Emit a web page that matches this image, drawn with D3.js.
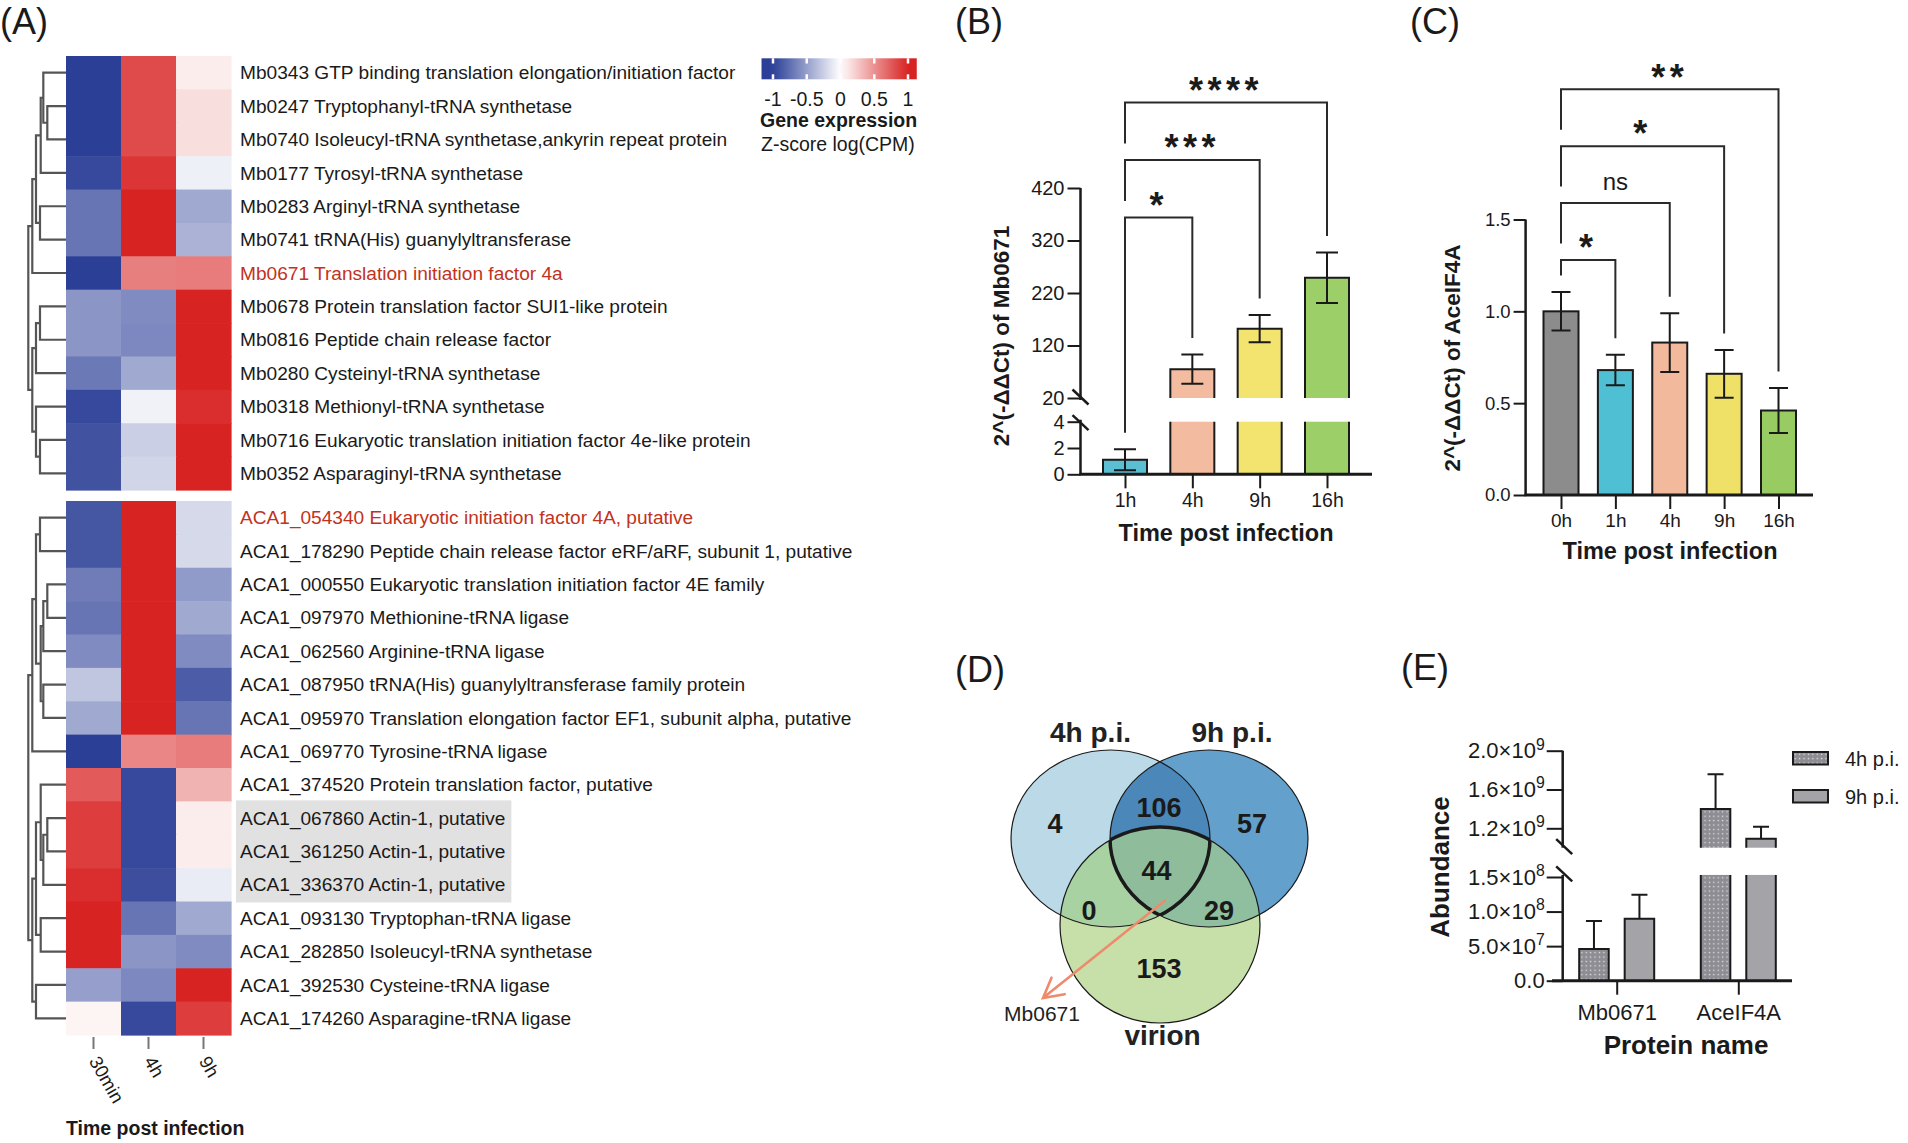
<!DOCTYPE html>
<html><head><meta charset="utf-8">
<script src="https://cdn.jsdelivr.net/npm/d3@7"></script>
<style>
body{margin:0;background:#fff;}
svg{display:block;}
</style></head><body>
<svg id="chart" width="1908" height="1143"></svg>
<script>
// ================= DATA =================
// Panel A heatmap
const heatCols = ["30min", "4h", "9h"];
const mbGenes = [
 "Mb0343 GTP binding translation elongation/initiation factor",
 "Mb0247 Tryptophanyl-tRNA synthetase",
 "Mb0740 Isoleucyl-tRNA synthetase,ankyrin repeat protein",
 "Mb0177 Tyrosyl-tRNA synthetase",
 "Mb0283 Arginyl-tRNA synthetase",
 "Mb0741 tRNA(His) guanylyltransferase",
 "Mb0671 Translation initiation factor 4a",
 "Mb0678 Protein translation factor SUI1-like protein",
 "Mb0816 Peptide chain release factor",
 "Mb0280 Cysteinyl-tRNA synthetase",
 "Mb0318 Methionyl-tRNA synthetase",
 "Mb0716 Eukaryotic translation initiation factor 4e-like protein",
 "Mb0352 Asparaginyl-tRNA synthetase"
];
const mbZ = [
 [-1.0, 0.82, 0.08],
 [-1.0, 0.82, 0.15],
 [-1.0, 0.82, 0.15],
 [-0.95, 0.92, -0.08],
 [-0.72, 1.0, -0.45],
 [-0.72, 1.0, -0.40],
 [-1.0, 0.58, 0.60],
 [-0.55, -0.60, 1.0],
 [-0.55, -0.62, 1.0],
 [-0.70, -0.45, 1.0],
 [-0.95, -0.07, 0.95],
 [-0.90, -0.25, 1.0],
 [-0.90, -0.22, 1.0]
];
// merges: [left, right, height]; numbers = leaves, "nK" = K-th merge
const mbMerges = [
 [1, 2, 0.496], [0, "n0", 0.602], ["n1", 3, 0.671], [4, 5, 0.69],
 ["n2", "n3", 0.796], ["n4", 6, 0.894], [7, 8, 0.69], ["n6", 9, 0.796],
 [11, 12, 0.69], [10, "n8", 0.796], ["n7", "n9", 0.894], ["n5", "n10", 1.0]
];
const acaGenes = [
 "ACA1_054340 Eukaryotic initiation factor 4A, putative",
 "ACA1_178290 Peptide chain release factor eRF/aRF, subunit 1, putative",
 "ACA1_000550 Eukaryotic translation initiation factor 4E family",
 "ACA1_097970 Methionine-tRNA ligase",
 "ACA1_062560 Arginine-tRNA ligase",
 "ACA1_087950 tRNA(His) guanylyltransferase family protein",
 "ACA1_095970 Translation elongation factor EF1, subunit alpha, putative",
 "ACA1_069770 Tyrosine-tRNA ligase",
 "ACA1_374520 Protein translation factor, putative",
 "ACA1_067860 Actin-1, putative",
 "ACA1_361250 Actin-1, putative",
 "ACA1_336370 Actin-1, putative",
 "ACA1_093130 Tryptophan-tRNA ligase",
 "ACA1_282850 Isoleucyl-tRNA synthetase",
 "ACA1_392530 Cysteine-tRNA ligase",
 "ACA1_174260 Asparagine-tRNA ligase"
];
const acaZ = [
 [-0.88, 1.0, -0.20],
 [-0.88, 1.0, -0.20],
 [-0.68, 1.0, -0.52],
 [-0.72, 1.0, -0.45],
 [-0.60, 1.0, -0.60],
 [-0.30, 1.0, -0.85],
 [-0.45, 1.0, -0.72],
 [-1.0, 0.55, 0.60],
 [0.75, -0.95, 0.35],
 [0.88, -0.95, 0.08],
 [0.88, -0.95, 0.08],
 [0.95, -0.92, -0.10],
 [1.0, -0.72, -0.45],
 [1.0, -0.55, -0.60],
 [-0.50, -0.62, 1.0],
 [0.05, -0.95, 0.88]
];
const acaMerges = [
 [0, 1, 0.69], [2, 3, 0.496], ["n1", 4, 0.602], [5, 6, 0.602],
 ["n2", "n3", 0.671], ["n0", "n4", 0.796], ["n5", 7, 0.894],
 [9, 10, 0.496], ["n7", 11, 0.602], [8, "n8", 0.671], [12, 13, 0.671],
 ["n9", "n10", 0.796], [14, 15, 0.796], ["n11", "n12", 0.894], ["n6", "n13", 1.0]
];
const highlightGenes = ["Mb0671 Translation initiation factor 4a", "ACA1_054340 Eukaryotic initiation factor 4A, putative"];
const actinGenes = ["ACA1_067860 Actin-1, putative", "ACA1_361250 Actin-1, putative", "ACA1_336370 Actin-1, putative"];
const legendTicks = [-1, -0.5, 0, 0.5, 1];
const legendTickLabels = ["-1", "-0.5", "0", "0.5", "1"];

// Panel B
const bTimes = ["1h", "4h", "9h", "16h"];
const bMeans = [1.1, 75, 152, 249];
const bSD = [0.8, 28, 26, 48];
const bUpperTicks = [20, 120, 220, 320, 420];
const bLowerTicks = [0, 2, 4];
const bSig = [
 {a: "1h", b: "4h", label: "*"},
 {a: "1h", b: "9h", label: "***"},
 {a: "1h", b: "16h", label: "****"}
];

// Panel C
const cTimes = ["0h", "1h", "4h", "9h", "16h"];
const cMeans = [1.0, 0.68, 0.83, 0.66, 0.46];
const cSD = [0.105, 0.083, 0.16, 0.13, 0.122];
const cTicks = [0, 0.5, 1.0, 1.5];
const cSig = [
 {a: "0h", b: "1h", label: "*"},
 {a: "0h", b: "4h", label: "ns"},
 {a: "0h", b: "9h", label: "*"},
 {a: "0h", b: "16h", label: "**"}
];

// Panel D
const vennSets = ["4h p.i.", "9h p.i.", "virion"];
const vennRegions = ["4h only", "4h&9h", "9h only", "all", "4h&virion", "9h&virion", "virion only"];
const vennCounts = [4, 106, 57, 44, 0, 29, 153];
const vennArrowLabel = "Mb0671";

// Panel E
const eProteins = ["Mb0671", "AceIF4A"];
const eGroups = ["4h p.i.", "9h p.i."];
const eMeans = [[4.6e7, 8.95e7], [1.40e9, 1.093e9]];
const eErr = [[4.05e7, 3.5e7], [3.57e8, 1.22e8]];
const eUpperTicks = [1.2e9, 1.6e9, 2.0e9];
const eLowerTicks = [0, 5e7, 1e8, 1.5e8];

// ================= DRAWING =================
const FONT = "'Liberation Sans', Arial, Helvetica, sans-serif";
const svg = d3.select("#chart").attr("font-family", FONT);
svg.append("rect").attr("width", 1908).attr("height", 1143).attr("fill", "#fff");
const defs = svg.append("defs");
const INK = "#1a1a1a";

// panel letters
const panelLetters = [["(A)", 0, 34], ["(B)", 955, 34], ["(C)", 1410, 34], ["(D)", 955, 682], ["(E)", 1401, 680]];
svg.selectAll("text.panel").data(panelLetters).join("text")
  .attr("x", d => d[1]).attr("y", d => d[2]).attr("font-size", 36).attr("fill", INK).text(d => d[0]);

// ---------- Panel A ----------
const heatColor = d3.scaleLinear().domain([-1, 0, 1]).range(["#2c3f97", "#ffffff", "#d82323"]).clamp(true);
const xCol = d3.scaleBand().domain(heatCols).range([66, 231]);
const dendX = d3.scaleLinear().domain([0, 1]).range([66, 28.3]);

function heatGroup(genes, z, merges, y0, y1) {
  const g = svg.append("g");
  const y = d3.scaleBand().domain(d3.range(genes.length)).range([y0, y1]);
  const bg = g.append("g");
  const cells = [];
  z.forEach((row, i) => row.forEach((v, j) => cells.push({i, j, v})));
  g.append("g").selectAll("rect").data(cells).join("rect")
    .attr("x", d => xCol(heatCols[d.j])).attr("y", d => y(d.i))
    .attr("width", xCol.bandwidth() + 0.6).attr("height", y.bandwidth() + 0.6)
    .attr("fill", d => heatColor(d.v));
  const labels = g.append("g").selectAll("text").data(genes).join("text")
    .attr("x", 240).attr("y", (d, i) => y(i) + y.bandwidth() / 2).attr("dy", "0.35em")
    .attr("font-size", 19.1)
    .attr("fill", d => highlightGenes.includes(d) ? "#c2321c" : INK)
    .text(d => d);
  // actin highlight
  const act = genes.map((d, i) => actinGenes.includes(d) ? i : -1).filter(i => i >= 0);
  if (act.length) {
    let maxR = 0;
    labels.each(function(d) { if (actinGenes.includes(d)) { const b = this.getBBox(); maxR = Math.max(maxR, b.x + b.width); } });
    bg.append("rect").attr("x", 236).attr("y", y(act[0]) - 1)
      .attr("width", maxR + 6 - 236).attr("height", y(act[act.length - 1]) + y.bandwidth() - y(act[0]) + 2)
      .attr("fill", "#e1e1e1");
  }
  // dendrogram
  const nodes = {};
  const pos = k => typeof k === "number" ? {x: dendX(0), y: y(k) + y.bandwidth() / 2} : nodes[k];
  const paths = merges.map((m, k) => {
    const a = pos(m[0]), b = pos(m[1]);
    const x = dendX(m[2]);
    nodes["n" + k] = {x, y: (a.y + b.y) / 2};
    return `M${a.x},${a.y}H${x}V${b.y}H${b.x}`;
  });
  g.append("g").selectAll("path").data(paths).join("path")
    .attr("d", d => d).attr("fill", "none").attr("stroke", "#555").attr("stroke-width", 2.2);
}
heatGroup(mbGenes, mbZ, mbMerges, 56, 490);
heatGroup(acaGenes, acaZ, acaMerges, 501, 1035);

// column ticks and labels
svg.append("g").selectAll("line").data(heatCols).join("line")
  .attr("x1", d => xCol(d) + xCol.bandwidth() / 2).attr("x2", d => xCol(d) + xCol.bandwidth() / 2)
  .attr("y1", 1037).attr("y2", 1049).attr("stroke", "#777").attr("stroke-width", 2);
svg.append("g").selectAll("text").data(heatCols).join("text")
  .attr("transform", d => `translate(${xCol(d) + xCol.bandwidth() / 2 - 5},${1061}) rotate(60)`)
  .attr("font-size", 18.5).attr("fill", INK).text(d => d);
svg.append("text").attr("x", 66).attr("y", 1135).attr("font-size", 19.5).attr("font-weight", "bold")
  .attr("fill", INK).text("Time post infection");

// legend color bar
const lx = d3.scaleLinear().domain([-1, 1]).range([773, 908]);
const grad = defs.append("linearGradient").attr("id", "hgrad");
const gx0 = -1.17, gx1 = 1.13;
grad.selectAll("stop").data(d3.range(0, 1.0001, 0.05)).join("stop")
  .attr("offset", d => d).attr("stop-color", d => heatColor(gx0 + d * (gx1 - gx0)));
svg.append("rect").attr("x", lx(gx0)).attr("y", 58.3).attr("width", lx(gx1) - lx(gx0)).attr("height", 21).attr("fill", "url(#hgrad)");
const lt = svg.append("g");
lt.selectAll("line.t").data(legendTicks).join("line")
  .attr("x1", d => lx(d)).attr("x2", d => lx(d)).attr("y1", 58.3).attr("y2", 63.5).attr("stroke", "#fff").attr("stroke-width", 2.5);
lt.selectAll("line.b").data(legendTicks).join("line").attr("class", "b")
  .attr("x1", d => lx(d)).attr("x2", d => lx(d)).attr("y1", 74.3).attr("y2", 79.3).attr("stroke", "#fff").attr("stroke-width", 2.5);
svg.append("g").selectAll("text").data(legendTicks).join("text")
  .attr("x", d => lx(d)).attr("y", 106).attr("text-anchor", "middle").attr("font-size", 19.5).attr("fill", INK)
  .text((d, i) => legendTickLabels[i]);
svg.append("text").attr("x", 760).attr("y", 126.5).attr("font-size", 19.5).attr("font-weight", "bold").attr("fill", INK).text("Gene expression");
svg.append("text").attr("x", 761).attr("y", 151).attr("font-size", 19.5).attr("fill", INK).text("Z-score log(CPM)");

// ---------- helpers ----------
function styleAxis(g, fs) {
  g.select(".domain").remove();
  g.selectAll(".tick line").attr("stroke", INK).attr("stroke-width", 2);
  g.selectAll(".tick text").attr("font-size", fs).attr("fill", INK).attr("font-family", FONT);
}
function hline(x1, x2, y, w) { svg.append("line").attr("x1", x1).attr("x2", x2).attr("y1", y).attr("y2", y).attr("stroke", INK).attr("stroke-width", w); }
function vline(x, y1, y2, w, col) { svg.append("line").attr("x1", x).attr("x2", x).attr("y1", y1).attr("y2", y2).attr("stroke", col || INK).attr("stroke-width", w); }
function breakMark(x, y) { svg.append("line").attr("x1", x - 8).attr("x2", x + 8).attr("y1", y - 7.5).attr("y2", y + 7.5).attr("stroke", INK).attr("stroke-width", 2.5); }
function sigBrackets(sig, xs, errTop, baseTop, step, fsStar) {
  const tops = sig.map((s, i) => baseTop - i * step);
  sig.forEach((s, i) => {
    const top = tops[i];
    const xa = xs(s.a), xb = xs(s.b);
    const leftBottom = i === 0 ? errTop(s.a) - 16.5 : tops[i - 1] - 16.5;
    const rightBottom = errTop(s.b) - 16.5;
    svg.append("path").attr("d", `M${xa},${leftBottom}V${top}H${xb}V${rightBottom}`)
      .attr("fill", "none").attr("stroke", "#2a2a2a").attr("stroke-width", 2);
    const isNs = s.label === "ns";
    svg.append("text").attr("x", (xa + xb) / 2).attr("y", isNs ? top - 13 : top - 20.5 + 0.575 * fsStar)
      .attr("text-anchor", "middle").attr("font-size", isNs ? 24 : fsStar).attr("font-weight", isNs ? "normal" : "bold")
      .attr("letter-spacing", isNs ? 0 : 4.5).attr("fill", INK).text(s.label);
  });
}

// ---------- Panel B ----------
const bColors = ["#5bbfd4", "#f3bca1", "#f2e46f", "#9dcf68"];
const bx = d3.scalePoint().domain(bTimes).range([1125, 1327]);
const bW = 44;
const byLow = d3.scaleLinear().domain([0, 4]).range([474.3, 421.7]);
const byUp = d3.scaleLinear().domain([20, 420]).range([398, 188]);
const bY = v => v <= 4 ? byLow(v) : byUp(v);
const B_AX = 1080.5;
bTimes.forEach((t, i) => {
  const v = bMeans[i], x0 = bx(t) - bW / 2, x1 = bx(t) + bW / 2;
  const lowTop = Math.min(v, 4);
  svg.append("rect").attr("x", x0).attr("y", byLow(lowTop)).attr("width", bW).attr("height", byLow(0) - byLow(lowTop)).attr("fill", bColors[i]);
  svg.append("path").attr("d", v <= 4 ? `M${x0},${byLow(0)}V${byLow(v)}H${x1}V${byLow(0)}` : `M${x0},${byLow(4)}V${byLow(0)}M${x1},${byLow(0)}V${byLow(4)}`)
    .attr("fill", "none").attr("stroke", INK).attr("stroke-width", 2);
  if (v > 20) {
    svg.append("rect").attr("x", x0).attr("y", byUp(v)).attr("width", bW).attr("height", byUp(20) - byUp(v)).attr("fill", bColors[i]);
    svg.append("path").attr("d", `M${x0},${byUp(20)}V${byUp(v)}H${x1}V${byUp(20)}`)
      .attr("fill", "none").attr("stroke", INK).attr("stroke-width", 2);
  }
  const yt = bY(v + bSD[i]), yb = bY(v - bSD[i]);
  svg.append("path").attr("d", `M${bx(t)},${yt}V${yb}M${bx(t) - 11},${yt}H${bx(t) + 11}M${bx(t) - 11},${yb}H${bx(t) + 11}`)
    .attr("fill", "none").attr("stroke", INK).attr("stroke-width", 2);
});
// axes B
vline(B_AX, byUp(420), byUp(20) + 2, 2.5);
vline(B_AX, byLow(4) - 2, byLow(0), 2.5);
breakMark(B_AX, byUp(20) - 1);
breakMark(B_AX, byLow(4) + 1);
styleAxis(svg.append("g").attr("transform", `translate(${B_AX},0)`).call(d3.axisLeft(byUp).tickValues(bUpperTicks).tickFormat(d3.format("d")).tickSize(13).tickPadding(3)), 20);
styleAxis(svg.append("g").attr("transform", `translate(${B_AX},0)`).call(d3.axisLeft(byLow).tickValues(bLowerTicks).tickFormat(d3.format("d")).tickSize(13).tickPadding(3)), 20);
hline(B_AX - 1, 1372, byLow(0), 3);
styleAxis(svg.append("g").attr("transform", `translate(0,${byLow(0)})`).call(d3.axisBottom(bx).tickSize(14).tickPadding(5)), 19.5);
svg.append("text").attr("transform", "translate(1009,336) rotate(-90)").attr("text-anchor", "middle")
  .attr("font-size", 22.5).attr("font-weight", "bold").attr("fill", INK).text("2^(-ΔΔCt) of Mb0671");
svg.append("text").attr("x", 1226).attr("y", 541).attr("text-anchor", "middle")
  .attr("font-size", 23.5).attr("font-weight", "bold").attr("fill", INK).text("Time post infection");
sigBrackets(bSig, bx, t => bY(bMeans[bTimes.indexOf(t)] + bSD[bTimes.indexOf(t)]), 217.5, 57.5, 36);

// ---------- Panel C ----------
const cColors = ["#8c8c8c", "#4fc0d4", "#f2b99d", "#efe168", "#98cc63"];
const cx = d3.scalePoint().domain(cTimes).range([1561, 1778.5]);
const cW = 35;
const cy = d3.scaleLinear().domain([0, 1.5]).range([495, 219.5]);
const C_AX = 1525.6;
cTimes.forEach((t, i) => {
  const v = cMeans[i];
  svg.append("rect").attr("x", cx(t) - cW / 2).attr("y", cy(v)).attr("width", cW).attr("height", cy(0) - cy(v))
    .attr("fill", cColors[i]).attr("stroke", INK).attr("stroke-width", 2);
  const yt = cy(v + cSD[i]), yb = cy(v - cSD[i]);
  svg.append("path").attr("d", `M${cx(t)},${yt}V${yb}M${cx(t) - 9.5},${yt}H${cx(t) + 9.5}M${cx(t) - 9.5},${yb}H${cx(t) + 9.5}`)
    .attr("fill", "none").attr("stroke", INK).attr("stroke-width", 2);
});
vline(C_AX, cy(1.5), cy(0), 2.5);
styleAxis(svg.append("g").attr("transform", `translate(${C_AX},0)`).call(d3.axisLeft(cy).tickValues(cTicks).tickFormat(d3.format(".1f")).tickSize(12).tickPadding(3)), 18.5);
hline(C_AX - 1, 1813, cy(0), 3);
styleAxis(svg.append("g").attr("transform", `translate(0,${cy(0)})`).call(d3.axisBottom(cx).tickSize(14).tickPadding(5)), 19);
svg.append("text").attr("transform", "translate(1460,358) rotate(-90)").attr("text-anchor", "middle")
  .attr("font-size", 22.5).attr("font-weight", "bold").attr("fill", INK).text("2^(-ΔΔCt) of AceIF4A");
svg.append("text").attr("x", 1670).attr("y", 559).attr("text-anchor", "middle")
  .attr("font-size", 23.5).attr("font-weight", "bold").attr("fill", INK).text("Time post infection");
sigBrackets(cSig, cx, t => cy(cMeans[cTimes.indexOf(t)] + cSD[cTimes.indexOf(t)]), 260, 56.9, 36);

// ---------- Panel D (Venn) ----------
const vennShape = [
  {cx: 1110.5, cy: 838.5, rx: 99.5, ry: 88.5, fill: "#bcd9e7"},
  {cx: 1209, cy: 838.5, rx: 99, ry: 88.5, fill: "#63a0cb"},
  {cx: 1160, cy: 925, rx: 100, ry: 98, fill: "#c7e0aa"}
];
const vennRegionStyle = [
  {dx: -105, dy: -15}, {dx: -1, dy: -31}, {dx: 92, dy: -15}, {dx: -3.5, dy: 32},
  {dx: -71, dy: 72}, {dx: 59, dy: 72}, {dx: -1, dy: 130}
];
const ellipse = (sel, e) => sel.append("ellipse").attr("cx", e.cx).attr("cy", e.cy).attr("rx", e.rx).attr("ry", e.ry);
vennShape.forEach((e, i) => ellipse(defs.append("clipPath").attr("id", "vc" + i), e));
const vg = svg.append("g");
vennShape.forEach(e => ellipse(vg, e).attr("fill", e.fill));
ellipse(vg.append("g").attr("clip-path", "url(#vc0)"), vennShape[1]).attr("fill", "#4c87b9");
ellipse(vg.append("g").attr("clip-path", "url(#vc0)"), vennShape[2]).attr("fill", "#a9d2a3");
ellipse(vg.append("g").attr("clip-path", "url(#vc1)"), vennShape[2]).attr("fill", "#8fbf9f");
ellipse(vg.append("g").attr("clip-path", "url(#vc0)").append("g").attr("clip-path", "url(#vc1)"), vennShape[2]).attr("fill", "#8fbd9c");
vennShape.forEach(e => ellipse(vg, e).attr("fill", "none").attr("stroke", INK).attr("stroke-width", 1.2));
[[2, 0, 1], [0, 1, 2], [1, 0, 2]].forEach(([s, c1, c2]) => {
  ellipse(vg.append("g").attr("clip-path", `url(#vc${c1})`).append("g").attr("clip-path", `url(#vc${c2})`), vennShape[s])
    .attr("fill", "none").attr("stroke", INK).attr("stroke-width", 3.5);
});
const vCenter = {x: 1160, y: 838};
vg.selectAll("text.cnt").data(vennCounts).join("text")
  .attr("x", (d, i) => vCenter.x + vennRegionStyle[i].dx).attr("y", (d, i) => vCenter.y + vennRegionStyle[i].dy + 9.5)
  .attr("text-anchor", "middle").attr("font-size", 27).attr("font-weight", "bold").attr("fill", INK).text(d => d);
const vennLabelPos = [{x: 1090.5, y: 742}, {x: 1232, y: 742}, {x: 1162.5, y: 1045}];
vg.selectAll("text.set").data(vennSets).join("text")
  .attr("x", (d, i) => vennLabelPos[i].x).attr("y", (d, i) => vennLabelPos[i].y)
  .attr("text-anchor", "middle").attr("font-size", 28).attr("font-weight", "bold").attr("fill", "#222").text(d => d);
// arrow
const arr = {x1: 1165, y1: 900.5, x2: 1043, y2: 998};
const ang = Math.atan2(arr.y2 - arr.y1, arr.x2 - arr.x1);
const headPts = [-0.5, 0.5].map(a => [arr.x2 - 22 * Math.cos(ang + a), arr.y2 - 22 * Math.sin(ang + a)]);
vg.append("path").attr("d", `M${arr.x1},${arr.y1}L${arr.x2},${arr.y2}M${headPts[0]}L${arr.x2},${arr.y2}L${headPts[1]}`)
  .attr("fill", "none").attr("stroke", "#ee8b6c").attr("stroke-width", 2.6).attr("stroke-linecap", "round");
vg.append("text").attr("x", 1042).attr("y", 1021).attr("text-anchor", "middle").attr("font-size", 21).attr("fill", "#222").text(vennArrowLabel);

// ---------- Panel E ----------
const pat = defs.append("pattern").attr("id", "dots").attr("patternUnits", "userSpaceOnUse").attr("width", 4.4).attr("height", 4.4);
pat.append("rect").attr("width", 4.4).attr("height", 4.4).attr("fill", "#8d8d93");
pat.append("rect").attr("x", 1.6).attr("y", 1.6).attr("width", 1.3).attr("height", 1.3).attr("fill", "#e6e6e6");
const eFills = ["url(#dots)", "#a3a3a8"];
const ex = d3.scalePoint().domain(eProteins).range([1616.7, 1738.3]);
const exIn = d3.scaleBand().domain(eGroups).range([-37.5, 37.5]).paddingInner(0.351);
const eyLow = d3.scaleLinear().domain([0, 1.5e8]).range([980.7, 877]);
const eyUp = d3.scaleLinear().domain([1.2e9, 2.0e9]).range([828.3, 750.7]);
const eLowTop = 1.53e8, eUpBottom = 1.0e9;
const eY = v => v <= eLowTop ? eyLow(v) : eyUp(v);
const E_AX = 1562.7;
eProteins.forEach((p, i) => eGroups.forEach((gName, j) => {
  const v = eMeans[i][j], x0 = ex(p) + exIn(gName), w = exIn.bandwidth(), x1 = x0 + w;
  const lowTop = Math.min(v, eLowTop);
  svg.append("rect").attr("x", x0).attr("y", eyLow(lowTop)).attr("width", w).attr("height", eyLow(0) - eyLow(lowTop)).attr("fill", eFills[j]);
  svg.append("path").attr("d", v <= eLowTop ? `M${x0},${eyLow(0)}V${eyLow(v)}H${x1}V${eyLow(0)}` : `M${x0},${eyLow(lowTop)}V${eyLow(0)}M${x1},${eyLow(0)}V${eyLow(lowTop)}`)
    .attr("fill", "none").attr("stroke", INK).attr("stroke-width", 2);
  if (v > eUpBottom) {
    svg.append("rect").attr("x", x0).attr("y", eyUp(v)).attr("width", w).attr("height", eyUp(eUpBottom) - eyUp(v)).attr("fill", eFills[j]);
    svg.append("path").attr("d", `M${x0},${eyUp(eUpBottom)}V${eyUp(v)}H${x1}V${eyUp(eUpBottom)}`)
      .attr("fill", "none").attr("stroke", INK).attr("stroke-width", 2);
  }
  const cxm = x0 + w / 2, yt = eY(v + eErr[i][j]);
  svg.append("path").attr("d", `M${cxm},${eY(v)}V${yt}M${cxm - 8},${yt}H${cxm + 8}`).attr("fill", "none").attr("stroke", INK).attr("stroke-width", 2);
}));
vline(E_AX, eyUp(2.0e9), eyUp(eUpBottom), 2.5);
vline(E_AX, eyLow(eLowTop), eyLow(0), 2.5);
breakMark(E_AX + 1.5, eyUp(eUpBottom) - 1);
breakMark(E_AX + 1.5, eyLow(eLowTop) - 1);
function sciTicks(g) {
  g.selectAll(".tick text").each(function(d) {
    const t = d3.select(this).text("");
    if (d === 0) { t.text("0.0"); return; }
    const ex10 = Math.floor(Math.log10(d)), m = d / Math.pow(10, ex10);
    t.append("tspan").text(m.toFixed(1) + "×10");
    t.append("tspan").attr("dy", "-0.55em").attr("font-size", "0.72em").text(ex10);
  });
}
const eAxU = svg.append("g").attr("transform", `translate(${E_AX},0)`).call(d3.axisLeft(eyUp).tickValues(eUpperTicks).tickSize(16).tickPadding(2));
styleAxis(eAxU, 22); sciTicks(eAxU);
const eAxL = svg.append("g").attr("transform", `translate(${E_AX},0)`).call(d3.axisLeft(eyLow).tickValues(eLowerTicks).tickSize(16).tickPadding(2));
styleAxis(eAxL, 22); sciTicks(eAxL);
hline(1552, 1792, eyLow(0), 3);
styleAxis(svg.append("g").attr("transform", `translate(0,${eyLow(0)})`).call(d3.axisBottom(ex).tickSize(14).tickPadding(10)), 22);
svg.append("text").attr("transform", "translate(1449,867) rotate(-90)").attr("text-anchor", "middle")
  .attr("font-size", 26).attr("font-weight", "bold").attr("fill", INK).text("Abundance");
svg.append("text").attr("x", 1686).attr("y", 1054).attr("text-anchor", "middle")
  .attr("font-size", 26).attr("font-weight", "bold").attr("fill", INK).text("Protein name");
// legend
const eLeg = svg.append("g").selectAll("g").data(eGroups).join("g").attr("transform", (d, i) => `translate(1793,${752 + i * 38})`);
eLeg.append("rect").attr("width", 35).attr("height", 12.5).attr("fill", (d, i) => eFills[i]).attr("stroke", INK).attr("stroke-width", 2);
eLeg.append("text").attr("x", 52).attr("y", 6.5).attr("dy", "0.36em").attr("font-size", 20).attr("fill", INK).text(d => d);
</script></body></html>
